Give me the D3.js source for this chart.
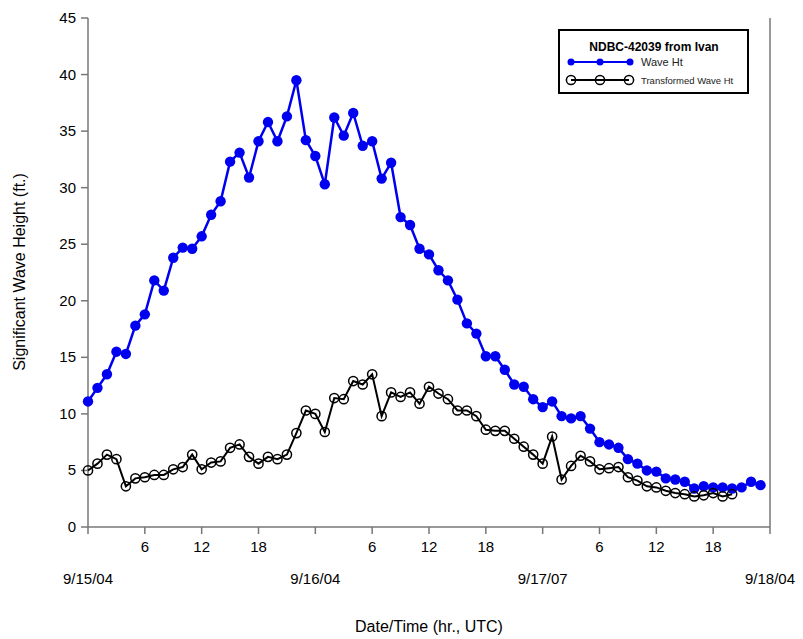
<!DOCTYPE html>
<html><head><meta charset="utf-8">
<script src="https://cdn.jsdelivr.net/npm/d3@7"></script>
<style>body{margin:0;background:#fff}text{font-family:Arial,"Liberation Sans",sans-serif}</style>
</head><body><svg id="c" width="803" height="639"></svg>
<script>
const waveHt = [11.1,12.3,13.5,15.5,15.3,17.8,18.8,21.8,20.9,23.8,24.7,24.6,25.7,27.6,28.8,32.3,33.1,30.9,34.1,35.8,34.1,36.3,39.5,34.2,32.8,30.3,36.2,34.6,36.6,33.7,34.1,30.8,32.2,27.4,26.7,24.6,24.1,22.7,21.8,20.1,18.0,17.1,15.1,15.1,13.9,12.6,12.4,11.3,10.6,11.1,9.8,9.6,9.8,8.7,7.5,7.3,7.0,6.0,5.6,5.0,4.9,4.3,4.2,4.0,3.4,3.6,3.5,3.5,3.4,3.5,4.0,3.7];
const transHt = [5.0,5.6,6.4,6.0,3.6,4.3,4.4,4.6,4.6,5.1,5.3,6.4,5.1,5.7,5.8,7.0,7.3,6.2,5.6,6.2,6.0,6.4,8.3,10.3,10.0,8.4,11.4,11.3,12.9,12.6,13.5,9.8,11.9,11.5,11.9,10.9,12.4,11.8,11.3,10.3,10.3,9.8,8.6,8.5,8.5,7.8,7.1,6.4,5.6,8.0,4.2,5.4,6.3,5.8,5.1,5.2,5.3,4.4,4.1,3.6,3.5,3.2,3.0,2.9,2.7,2.8,3.0,2.7,2.9];
const hourTicks = [6,12,18,30,36,42,54,60,66];
const dateTicks = [{h:0,l:'9/15/04'},{h:24,l:'9/16/04'},{h:48,l:'9/17/07'},{h:72,l:'9/18/04'}];
const yTicks = d3.range(0,46,5);

const svg = d3.select('#c');
const x = d3.scaleLinear().domain([0,72]).range([88,770]);
const y = d3.scaleLinear().domain([0,45]).range([527,18]);
const axisCol = '#777';

// frame
svg.append('line').attr('x1',88).attr('x2',88).attr('y1',18).attr('y2',527).attr('stroke',axisCol).attr('stroke-width',1.5);
svg.append('line').attr('x1',770).attr('x2',770).attr('y1',18).attr('y2',527).attr('stroke',axisCol).attr('stroke-width',1.5);
svg.append('line').attr('x1',88).attr('x2',770).attr('y1',527).attr('y2',527).attr('stroke',axisCol).attr('stroke-width',1.5);

// y axis
yTicks.forEach(v=>{
  svg.append('line').attr('x1',81).attr('x2',88).attr('y1',y(v)).attr('y2',y(v)).attr('stroke',axisCol).attr('stroke-width',1.5);
  svg.append('text').attr('x',76).attr('y',y(v)+5).attr('text-anchor','end').attr('font-size',15).text(v);
});
// x axis
d3.range(0,73,6).forEach(h=>{
  svg.append('line').attr('x1',x(h)).attr('x2',x(h)).attr('y1',527).attr('y2',534).attr('stroke',axisCol).attr('stroke-width',1.5);
});
hourTicks.forEach(h=>svg.append('text').attr('x',x(h)).attr('y',552).attr('text-anchor','middle').attr('font-size',15).text(h%24));
dateTicks.forEach(d=>svg.append('text').attr('x',x(d.h)).attr('y',584).attr('text-anchor','middle').attr('font-size',15).text(d.l));

svg.append('text').attr('x',429).attr('y',632).attr('text-anchor','middle').attr('font-size',16).text('Date/Time (hr., UTC)');
svg.append('text').attr('transform','translate(25,272) rotate(-90)').attr('text-anchor','middle').attr('font-size',16).text('Significant Wave Height (ft.)');

const line = d3.line().x((d,i)=>x(i)).y(d=>y(d));
svg.append('path').datum(waveHt).attr('d',line).attr('fill','none').attr('stroke','#0000f0').attr('stroke-width',2.5);
svg.selectAll('.b').data(waveHt).enter().append('circle').attr('cx',(d,i)=>x(i)).attr('cy',d=>y(d)).attr('r',5.2).attr('fill','#0000f0');
svg.append('path').datum(transHt).attr('d',line).attr('fill','none').attr('stroke','#000').attr('stroke-width',2);
svg.selectAll('.k').data(transHt).enter().append('circle').attr('cx',(d,i)=>x(i)).attr('cy',d=>y(d)).attr('r',4.6).attr('fill','none').attr('stroke','#000').attr('stroke-width',1.5);

// legend
const lg = svg.append('g');
lg.append('rect').attr('x',559).attr('y',30).attr('width',189).attr('height',63).attr('fill','#fff').attr('stroke','#000').attr('stroke-width',2);
lg.append('text').attr('x',654).attr('y',51).attr('text-anchor','middle').attr('font-size',12).attr('font-weight','bold').text('NDBC-42039 from Ivan');
lg.append('line').attr('x1',571).attr('x2',630).attr('y1',62).attr('y2',62).attr('stroke','#0000f0').attr('stroke-width',2);
[571,600,630].forEach(cx=>lg.append('circle').attr('cx',cx).attr('cy',62).attr('r',3.5).attr('fill','#0000f0'));
lg.append('text').attr('x',641).attr('y',66).attr('font-size',11).attr('fill','#222').text('Wave Ht');
lg.append('line').attr('x1',571).attr('x2',629).attr('y1',80).attr('y2',80).attr('stroke','#000').attr('stroke-width',2);
[571,600,629].forEach(cx=>lg.append('circle').attr('cx',cx).attr('cy',80).attr('r',4.6).attr('fill','none').attr('stroke','#000').attr('stroke-width',1.5));
lg.append('text').attr('x',641).attr('y',84).attr('font-size',9.5).attr('fill','#222').text('Transformed Wave Ht');
</script></body></html>
